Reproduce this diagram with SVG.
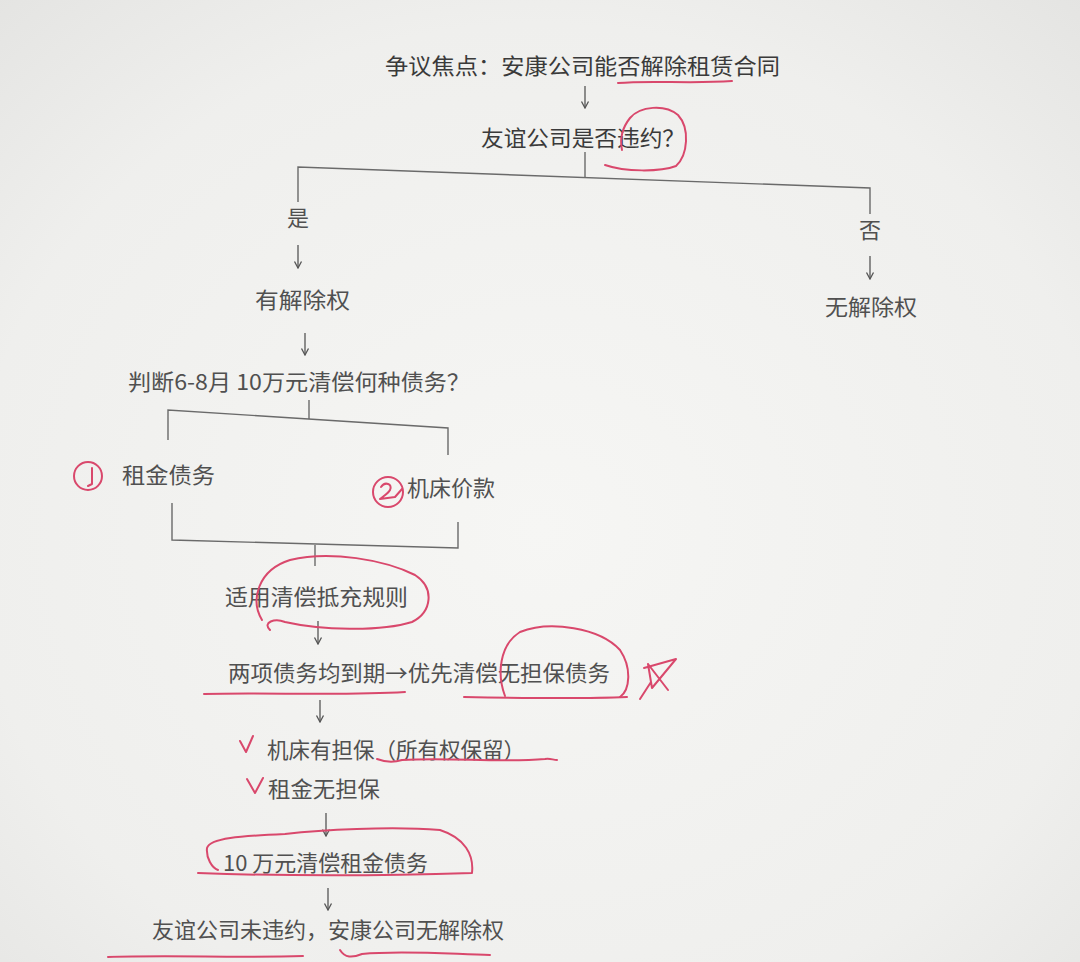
<svg xmlns="http://www.w3.org/2000/svg" width="1080" height="962" viewBox="0 0 1080 962">
<defs>
<radialGradient id="paper" cx="50%" cy="55%" r="75%">
<stop offset="0" stop-color="#f6f6f4"/>
<stop offset="0.7" stop-color="#efefed"/>
<stop offset="1" stop-color="#e4e4e2"/>
</radialGradient>
<marker id="ah" markerWidth="10" markerHeight="10" refX="9" refY="5" orient="auto" markerUnits="userSpaceOnUse" viewBox="0 0 10 10">
<path d="M2.5,1.5 L9,5 L2.5,8.5" fill="none" stroke="#555" stroke-width="1.3"/>
</marker>
<style>
.t{font-family:"Noto Sans CJK SC","Noto Sans CJK JP",sans-serif;font-size:22px;fill:#505050;}
.tt{fill:#3a3a3a;}
.c{fill:none;stroke:#6a6a6a;stroke-width:1.4;}
.a{fill:none;stroke:#555;stroke-width:1.3;marker-end:url(#ah);}
.r{fill:none;stroke:#d9486c;stroke-width:2;stroke-linecap:round;stroke-linejoin:round;}
</style>
</defs>
<rect width="1080" height="962" fill="url(#paper)"/>

<g id="connectors">
<path class="a" d="M585,86 L585,108"/>
<path class="c" d="M585,152 L585,178"/>
<path class="c" d="M298,202 L298,167 L870,188 L870,214"/>
<path class="a" d="M298,245 L298,268"/>
<path class="a" d="M870,256 L870,279"/>
<path class="a" d="M305,333 L305,355"/>
<path class="c" d="M309,400 L309,419"/>
<path class="c" d="M168,440 L168,410 L448,428 L448,455"/>
<path class="c" d="M172,503 L172,540 L458,548 L458,522"/>
<path class="c" d="M315,545 L315,566"/>
<path class="a" d="M318,621 L318,644"/>
<path class="a" d="M320,700 L320,722"/>
<path class="a" d="M326,813 L326,836"/>
<path class="a" d="M328,888 L328,910"/>
</g>

<g id="n_title"><text class="t tt" x="385" y="74" textLength="395" lengthAdjust="spacingAndGlyphs">争议焦点：安康公司能否解除租赁合同</text></g>
<g id="n_q1"><text class="t tt" x="481" y="146" textLength="204" lengthAdjust="spacingAndGlyphs">友谊公司是否违约？</text></g>
<g id="n_yes"><text class="t" x="287" y="226">是</text></g>
<g id="n_no"><text class="t" x="859" y="238">否</text></g>
<g id="n_right"><text class="t" x="255" y="308" textLength="95" lengthAdjust="spacingAndGlyphs">有解除权</text></g>
<g id="n_noright"><text class="t" x="825" y="315" textLength="92" lengthAdjust="spacingAndGlyphs">无解除权</text></g>
<g id="n_q2"><text class="t" x="128" y="390" textLength="342" lengthAdjust="spacingAndGlyphs">判断6-8月 10万元清偿何种债务？</text></g>
<g id="n_rent"><text class="t" x="122" y="483" textLength="93" lengthAdjust="spacingAndGlyphs">租金债务</text></g>
<g id="n_machine"><text class="t" x="407" y="496" textLength="88" lengthAdjust="spacingAndGlyphs">机床价款</text></g>
<g id="n_rule"><text class="t" x="225" y="605" textLength="183" lengthAdjust="spacingAndGlyphs">适用清偿抵充规则</text></g>
<g id="n_both"><text class="t" x="228" y="681" textLength="382" lengthAdjust="spacingAndGlyphs">两项债务均到期→优先清偿无担保债务</text></g>
<g id="n_m_sec"><text class="t" x="267" y="758" textLength="258" lengthAdjust="spacingAndGlyphs">机床有担保（所有权保留）</text></g>
<g id="n_r_sec"><text class="t" x="268" y="797" textLength="112" lengthAdjust="spacingAndGlyphs">租金无担保</text></g>
<g id="n_pay"><text class="t" x="223" y="871" textLength="205" lengthAdjust="spacingAndGlyphs">10 万元清偿租金债务</text></g>
<g id="n_concl"><text class="t" x="152" y="938" textLength="352" lengthAdjust="spacingAndGlyphs">友谊公司未违约，安康公司无解除权</text></g>

<g id="annotations">
<path class="r" d="M618,83 C650,80 690,84 732,81"/>
<path class="r" d="M605,165 C625,172 660,172 676,166 C688,155 690,128 678,115 C665,104 640,106 630,118 C622,128 620,140 622,150"/>
<circle class="r" cx="88" cy="476" r="14"/>
<path class="r" d="M92,468 L92,484 L88,486"/>
<circle class="r" cx="388" cy="492" r="15"/>
<path class="r" d="M381,487 C385,481 393,484 390,490 C388,494 382,497 380,499 L395,497 M395,497 L402,489"/>
<path class="r" d="M262,620 C250,600 258,570 290,560 C330,550 385,560 415,575 C435,588 432,612 412,622 C380,632 320,630 285,622 C275,618 262,622 270,630"/>
<path class="r" d="M204,694 C260,692 340,696 405,692"/>
<path class="r" d="M464,697 C520,698 580,699 627,697"/>
<path class="r" d="M505,696 C497,675 499,645 520,632 C550,620 600,628 620,650 C632,668 630,690 620,697"/>
<path class="r" d="M640,699 L651,682 M644,668 L676,659 L652,688 L648,664 L668,690"/>
<path class="r" d="M240,741 L246,752 L253,736"/>
<path class="r" d="M377,759 C385,762 392,763 402,760 C450,757 500,763 545,759 C550,758 553,760 557,760"/>
<path class="r" d="M247,779 L255,793 L263,778"/>
<path class="r" d="M198,873 C280,876 380,876 472,873 C474,855 465,838 440,830 C390,826 320,830 285,834 C240,836 210,838 207,848 C206,858 212,868 218,870"/>
<path class="r" d="M108,957 C170,955 240,958 303,956"/>
<path class="r" d="M340,950 C345,958 352,958 362,954 C400,950 450,954 490,955"/>
</g>
</svg>
